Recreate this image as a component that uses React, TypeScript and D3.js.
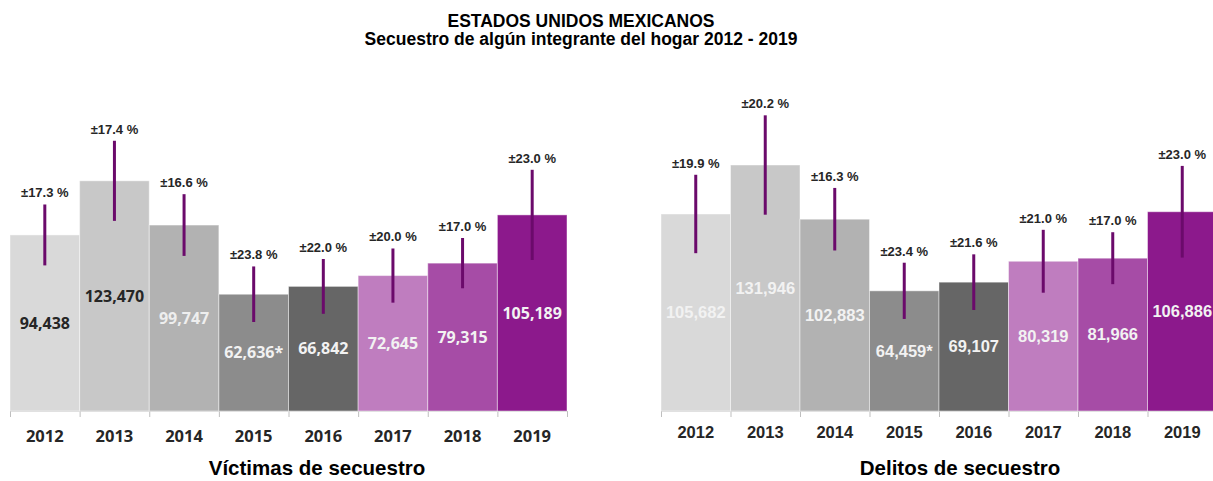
import React from "react";
import * as d3 from "d3";

const years = ["2012", "2013", "2014", "2015", "2016", "2017", "2018", "2019"];
const victimas = [94438, 123470, 99747, 62636, 66842, 72645, 79315, 105189];
const victimasLabels = ["94,438", "123,470", "99,747", "62,636*", "66,842", "72,645", "79,315", "105,189"];
const victimasCV = [17.3, 17.4, 16.6, 23.8, 22.0, 20.0, 17.0, 23.0];
const delitos = [105682, 131946, 102883, 64459, 69107, 80319, 81966, 106886];
const delitosLabels = ["105,682", "131,946", "102,883", "64,459*", "69,107", "80,319", "81,966", "106,886"];
const delitosCV = [19.9, 20.2, 16.3, 23.4, 21.6, 21.0, 17.0, 23.0];

const title1 = "ESTADOS UNIDOS MEXICANOS";
const title2 = "Secuestro de algún integrante del hogar 2012 - 2019";

const barColors = ["#d9d9d9", "#c8c8c8", "#b2b2b2", "#8c8c8c", "#666666", "#bf7dbf", "#a64ca6", "#8c198c"];
const errColor = "#6b0a6b";
const dark = "#262626";

const ARIAL = "'Liberation Sans', Arial, sans-serif";
const OPEN = "'Open Sans', sans-serif";

type PanelProps = {
  x0: number;
  x1: number;
  values: number[];
  labels: string[];
  cv: number[];
  labelColors: string[];
  valueFont: string;
  valueSize: number;
  yearFont: string;
  yearBaseline: number;
  subtitle: string;
  subtitleX: number;
};

function Panel(p: PanelProps) {
  const x = d3.scaleBand<string>().domain(years).range([p.x0, p.x1]).padding(0);
  const y = d3.scaleLinear().domain([0, 140000]).range([411, 150]);
  const bw = x.bandwidth();
  const ticks = years.map((yr) => x(yr) as number).concat([p.x1]);
  return (
    <g>
      <line x1={p.x0} x2={p.x1} y1={y(0) + 0.5} y2={y(0) + 0.5} stroke="#d9d9d9" strokeWidth={1} />
      {ticks.map((t, i) => (
        <line key={"t" + i} x1={t + 0.5} x2={t + 0.5} y1={y(0)} y2={y(0) + 6} stroke="#bfbfbf" strokeWidth={1} />
      ))}
      {years.map((yr, i) => {
        const v = p.values[i];
        const bx = x(yr) as number;
        return (
          <rect
            key={"b" + yr}
            x={bx}
            y={y(v)}
            width={bw}
            height={y(0) - y(v)}
            fill={barColors[i]}
            stroke="rgba(255,255,255,0.45)"
            strokeWidth={1}
          />
        );
      })}
      {years.map((yr, i) => {
        const v = p.values[i];
        const cx = (x(yr) as number) + bw / 2;
        const e = (v * p.cv[i]) / 100;
        const top = y(v + e);
        const bot = y(v - e);
        return (
          <g key={"e" + yr}>
            <line x1={cx} x2={cx} y1={top} y2={bot} stroke={errColor} strokeWidth={3} />
            <text
              x={cx}
              y={top - 7}
              textAnchor="middle"
              fontFamily={ARIAL}
              fontWeight="bold"
              fontSize={13}
              fill={dark}
            >
              {"±" + p.cv[i].toFixed(1) + " %"}
            </text>
          </g>
        );
      })}
      {years.map((yr, i) => {
        const v = p.values[i];
        const cx = (x(yr) as number) + bw / 2;
        const cy = (y(v) + y(0)) / 2;
        return (
          <text
            key={"v" + yr}
            x={cx}
            y={cy + 5.8}
            textAnchor="middle"
            fontFamily={p.valueFont}
            fontWeight="bold"
            fontSize={p.valueSize}
            fill={p.labelColors[i]}
          >
            {p.labels[i]}
          </text>
        );
      })}
      {years.map((yr) => (
        <text
          key={"y" + yr}
          x={(x(yr) as number) + bw / 2}
          y={p.yearBaseline}
          textAnchor="middle"
          fontFamily={p.yearFont}
          fontWeight="bold"
          fontSize={16.5}
          fill={dark}
        >
          {yr}
        </text>
      ))}
      <text
        x={p.subtitleX}
        y={475}
        textAnchor="middle"
        fontFamily={ARIAL}
        fontWeight="bold"
        fontSize={20.5}
        fill="#000"
      >
        {p.subtitle}
      </text>
    </g>
  );
}

export default function App() {
  const leftLabelColors = ["#262626", "#262626", "#eeeeee", "#f2f2f2", "#f2f2f2", "#f2f2f2", "#f2f2f2", "#f2f2f2"];
  const rightLabelColors = years.map(() => "#f2f2f2");
  return (
    <svg
      width={1213}
      height={481}
      style={{ position: "absolute", left: 0, top: 0, background: "#fff" }}
    >
      <rect x={0} y={0} width={1213} height={481} fill="#fff" />
      <text x={581} y={27} textAnchor="middle" fontFamily={ARIAL} fontWeight="bold" fontSize={17.5} fill="#000">
        {title1}
      </text>
      <text x={581} y={45} textAnchor="middle" fontFamily={ARIAL} fontWeight="bold" fontSize={17.5} fill="#000">
        {title2}
      </text>
      <Panel
        x0={10}
        x1={567}
        values={victimas}
        labels={victimasLabels}
        cv={victimasCV}
        labelColors={leftLabelColors}
        valueFont={OPEN}
        valueSize={16}
        yearFont={OPEN}
        yearBaseline={441.5}
        subtitle="Víctimas de secuestro"
        subtitleX={317}
      />
      <Panel
        x0={661}
        x1={1217}
        values={delitos}
        labels={delitosLabels}
        cv={delitosCV}
        labelColors={rightLabelColors}
        valueFont={ARIAL}
        valueSize={16.5}
        yearFont={ARIAL}
        yearBaseline={438}
        subtitle="Delitos de secuestro"
        subtitleX={960}
      />
    </svg>
  );
}
